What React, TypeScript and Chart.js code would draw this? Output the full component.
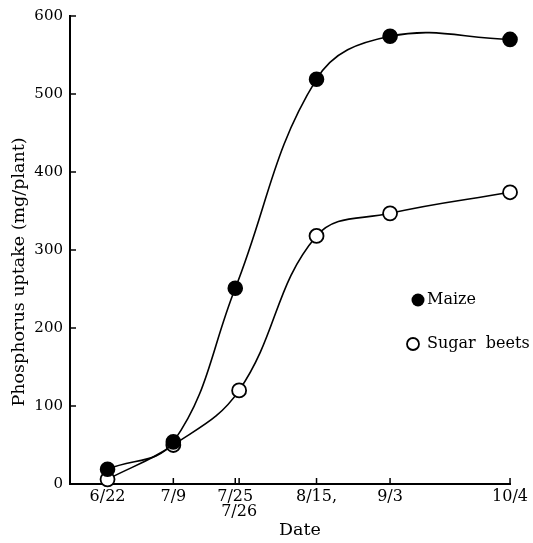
import React, { useEffect, useRef } from "react";
import { Chart, registerables } from "chart.js";

Chart.register(...registerables);

// Days counted from 6/22
const tickDays = [0, 17, 33, 34, 54, 73, 104];
const tickLabels: (string | string[])[] = ["6/22", "7/9", "7/25", ["", "7/26"], "8/15,", "9/3", "10/4"];

const maizeDays = [0, 17, 33, 54, 73, 104];
const maizeValues = [19, 54, 251, 519, 574, 570];

const beetDays = [0, 17, 34, 54, 73, 104];
const beetValues = [6, 50, 120, 318, 347, 374];

const yTicks = [0, 100, 200, 300, 400, 500, 600];

const seriesNames = ["Maize", "Sugar  beets"];
const yTitle = "Phosphorus uptake (mg/plant)";
const xTitle = "Date";

const FONT = "'DejaVu Serif', 'Liberation Serif', serif";

const decorPlugin = {
  id: "decor",
  afterDraw(chart: any) {
    const { ctx, chartArea, scales } = chart;
    const x = scales.x;
    const y = scales.y;
    ctx.save();
    ctx.strokeStyle = "#000";
    ctx.lineWidth = 1.5;
    // inward y ticks
    yTicks.forEach((v) => {
      if (v === 0) return;
      const py = y.getPixelForValue(v);
      ctx.beginPath();
      ctx.moveTo(chartArea.left, py);
      ctx.lineTo(chartArea.left + 6, py);
      ctx.stroke();
    });
    // inward x ticks
    tickDays.forEach((d) => {
      if (d === 0) return;
      const px = x.getPixelForValue(d);
      ctx.beginPath();
      ctx.moveTo(px, chartArea.bottom);
      ctx.lineTo(px, chartArea.bottom - 6);
      ctx.stroke();
    });

    // axis titles
    ctx.fillStyle = "#000";
    ctx.font = `17.5px ${FONT}`;
    ctx.textAlign = "center";
    ctx.textBaseline = "middle";
    ctx.save();
    ctx.translate(19, chartArea.top + 256);
    ctx.rotate(-Math.PI / 2);
    ctx.fillText(yTitle, 0, 0);
    ctx.restore();
    ctx.fillText(xTitle, chartArea.left + 230, chartArea.bottom + 46);

    // legend
    const lx = chartArea.left + 348;
    const ly = chartArea.top + 284;
    ctx.textAlign = "left";
    ctx.font = `16px ${FONT}`;
    ctx.beginPath();
    ctx.arc(lx, ly, 6.5, 0, Math.PI * 2);
    ctx.fillStyle = "#000";
    ctx.fill();
    ctx.fillText(seriesNames[0], lx + 9, ly);
    ctx.beginPath();
    ctx.arc(lx - 5, ly + 44, 6, 0, Math.PI * 2);
    ctx.fillStyle = "#fff";
    ctx.fill();
    ctx.lineWidth = 1.8;
    ctx.strokeStyle = "#000";
    ctx.stroke();
    ctx.fillStyle = "#000";
    ctx.fillText(seriesNames[1], lx + 9, ly + 44);
    ctx.restore();
  },
};

export default function App() {
  const ref = useRef<HTMLCanvasElement>(null);
  useEffect(() => {
    if (!ref.current) return;
    const chart = new Chart(ref.current, {
      type: "line",
      data: {
        datasets: [
          {
            label: seriesNames[0],
            data: maizeDays.map((d, i) => ({ x: d, y: maizeValues[i] })),
            borderColor: "#000",
            borderWidth: 1.6,
            backgroundColor: "#000",
            pointBackgroundColor: "#000",
            pointBorderColor: "#000",
            pointRadius: 7,
            tension: 0.4,
            clip: false as any,
            order: 0,
          },
          {
            label: seriesNames[1],
            data: beetDays.map((d, i) => ({ x: d, y: beetValues[i] })),
            borderColor: "#000",
            borderWidth: 1.6,
            backgroundColor: "#fff",
            pointBackgroundColor: "#fff",
            pointBorderColor: "#000",
            pointBorderWidth: 1.8,
            pointRadius: 7,
            tension: 0.4,
            clip: false as any,
            order: 1,
          },
        ],
      },
      options: {
        animation: false,
        responsive: false,
        layout: { padding: { top: 13, right: 17, left: 0, bottom: 0 } },
        plugins: { legend: { display: false }, tooltip: { enabled: false } },
        scales: {
          x: {
            type: "linear",
            min: -9.7,
            max: 104,
            grid: { display: false, drawTicks: false },
            border: { display: true, color: "#000", width: 2 },
            afterBuildTicks: (scale: any) => {
              scale.ticks = tickDays.map((v) => ({ value: v }));
            },
            afterFit: (scale: any) => {
              scale.height = 59;
            },
            ticks: {
              autoSkip: false,
              maxRotation: 0,
              padding: 5,
              color: "#000",
              font: { family: FONT, size: 16, lineHeight: 0.95 },
              callback: (_v: any, i: number) => tickLabels[i],
            },
          },
          y: {
            min: 0,
            max: 600,
            grid: { display: false, drawTicks: false },
            border: { display: true, color: "#000", width: 2 },
            afterBuildTicks: (scale: any) => {
              scale.ticks = yTicks.map((v) => ({ value: v }));
            },
            afterFit: (scale: any) => {
              scale.width = 70;
            },
            ticks: {
              padding: 7,
              color: "#000",
              font: { family: FONT, size: 15 },
            },
          },
        },
      },
      plugins: [decorPlugin],
    } as any);
    return () => chart.destroy();
  }, []);
  return (
    <div style={{ position: "fixed", left: 0, top: 0, width: 533, height: 543, background: "#fff" }}>
      <canvas ref={ref} width={533} height={543} />
    </div>
  );
}
